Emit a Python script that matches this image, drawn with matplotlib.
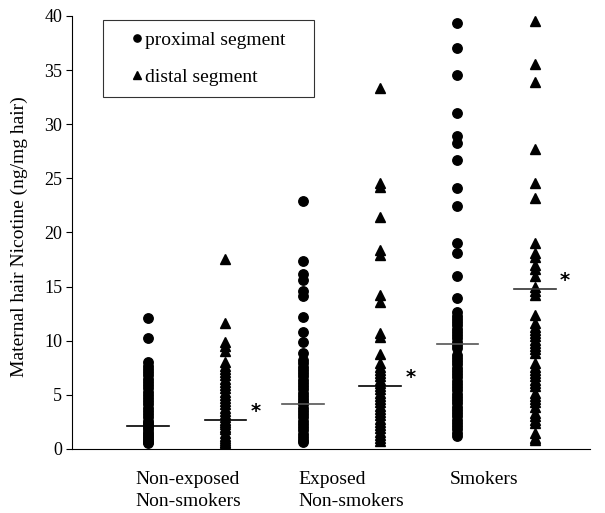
import matplotlib
matplotlib.use("Agg")
import matplotlib.pyplot as plt
from matplotlib.lines import Line2D
from matplotlib.transforms import blended_transform_factory

plt.rcParams['font.family'] = ['Liberation Serif', 'DejaVu Serif']

# column order: non-exposed prox/dist, exposed prox/dist, smokers prox/dist
ne_prox = [12.1, 10.2, 8.0, 7.7, 7.4, 7.1, 6.8, 6.5, 6.2, 5.9, 5.6, 5.3, 5.0, 4.7,
           4.4, 4.1, 3.8, 3.5, 3.2, 2.9, 2.6, 2.4, 2.2, 2.0, 1.8, 1.6, 1.4, 1.2,
           1.0, 0.8, 0.6, 0.5]
ne_dist = [17.5, 11.6, 9.9, 9.5, 9.0, 8.0, 7.7, 7.4, 7.1, 6.8, 6.5, 6.2, 5.9, 5.6,
           5.3, 5.0, 4.7, 4.4, 4.1, 3.8, 3.5, 3.2, 2.9, 2.7, 2.5, 2.3, 2.0, 1.8,
           1.5, 1.2, 1.0, 0.8, 0.6, 0.5]
exp_prox = [22.9, 17.4, 16.2, 15.6, 14.6, 14.1, 12.2, 10.8, 9.9, 8.9, 8.2, 7.9,
            7.6, 7.3, 7.0, 6.7, 6.4, 6.1, 5.8, 5.5, 5.2, 4.9, 4.6, 4.3, 4.1, 3.8,
            3.5, 3.2, 2.9, 2.6, 2.3, 2.0, 1.7, 1.4, 1.1, 0.8, 0.6]
exp_dist = [33.3, 24.6, 24.2, 21.4, 18.4, 17.9, 14.2, 13.6, 10.7, 10.3, 8.8, 7.9,
            7.6, 7.3, 7.0, 6.7, 6.4, 6.1, 5.8, 5.5, 5.2, 4.9, 4.6, 4.3, 4.0, 3.7,
            3.4, 3.1, 2.8, 2.5, 2.2, 1.9, 1.6, 1.3, 1.0, 0.7]
smk_prox = [39.3, 37.0, 34.5, 31.0, 28.9, 28.3, 26.7, 24.1, 22.4, 19.0, 18.1, 16.0,
            13.9, 12.6, 12.3, 12.0, 11.7, 11.4, 11.1, 10.8, 10.5, 10.2, 9.9, 9.6,
            9.3, 8.7, 8.4, 8.1, 7.8, 7.5, 7.2, 6.9, 6.6, 6.3, 6.0, 5.7, 5.4, 5.1,
            4.8, 4.5, 4.2, 3.9, 3.6, 3.3, 3.0, 2.7, 2.4, 2.1, 1.8, 1.5, 1.2]
smk_dist = [39.5, 35.6, 33.9, 27.7, 24.6, 23.2, 19.0, 18.1, 17.7, 17.0, 16.6, 16.0,
            15.0, 14.6, 14.2, 12.4, 11.6, 11.3, 11.0, 10.7, 10.4, 10.1, 9.8, 9.5,
            9.2, 8.9, 7.9, 7.6, 7.3, 7.0, 6.7, 6.4, 6.1, 5.8, 5.2, 4.9, 4.6, 4.3,
            3.9, 3.3, 3.0, 2.7, 2.4, 1.5, 1.0, 0.8]

medians = [2.1, 2.7, 4.1, 5.8, 9.7, 14.8]
significant = [False, True, False, True, False, True]
group_labels = ["Non-exposed\nNon-smokers", "Exposed\nNon-smokers", "Smokers"]
legend_labels = ["proximal segment", "distal segment"]

columns = [ne_prox, ne_dist, exp_prox, exp_dist, smk_prox, smk_dist]
markers = ["o", "^", "o", "^", "o", "^"]
med_colors = ["black", "black", "#555555", "black", "#555555", "#333333"]

fig = plt.figure(figsize=(6.05, 5.13), dpi=100)
ax = fig.add_axes([0.119, 0.125, 0.857, 0.844])

for i, (vals, mk) in enumerate(zip(columns, markers)):
    xpos = i + 1
    ax.plot([xpos] * len(vals), vals, linestyle="none", marker=mk,
            markersize=6.8 if mk == "o" else 7.0, color="black", zorder=3)
    ax.plot([xpos - 0.27, xpos + 0.27], [medians[i], medians[i]],
            color=med_colors[i], linewidth=1.2, zorder=4)
    if significant[i]:
        ax.text(xpos + 0.39, medians[i] + 0.75, "*", fontsize=14,
                fontweight="bold", ha="center", va="center",
                family="DejaVu Sans")

ax.set_xlim(0.015, 6.72)
ax.set_ylim(0, 40)
ax.set_yticks(range(0, 41, 5))
ax.set_xticks([])
ax.tick_params(axis="y", direction="out", length=4, width=0.8, labelsize=13, pad=3)
ax.spines["top"].set_visible(False)
ax.spines["right"].set_visible(False)
ax.spines["left"].set_linewidth(0.8)
ax.spines["bottom"].set_linewidth(0.8)
ax.set_ylabel("Maternal hair Nicotine (ng/mg hair)", fontsize=14)
ax.yaxis.set_label_coords(-0.085, 0.49)

# group labels under the axis
trans = blended_transform_factory(ax.transData, ax.transAxes)
label_x = [0.84, 2.94, 4.90]
for lx, lab in zip(label_x, group_labels):
    ax.text(lx, -0.05, lab, transform=trans, ha="left", va="top",
            fontsize=14, linespacing=1.45)

handles = [Line2D([], [], linestyle="none", marker="o", color="black", markersize=5.2),
           Line2D([], [], linestyle="none", marker="^", color="black", markersize=5.7)]
leg = ax.legend(handles, legend_labels, loc="upper left",
                bbox_to_anchor=(0.06, 0.99, 0.407, 0.0), mode="expand",
                fontsize=14, frameon=True, fancybox=False, handlelength=2.4,
                handletextpad=-0.8, labelspacing=1.0, borderpad=0.56,
                borderaxespad=0)
leg.get_frame().set_edgecolor("black")
leg.get_frame().set_linewidth(0.8)

fig.savefig("out.png", dpi=100)
